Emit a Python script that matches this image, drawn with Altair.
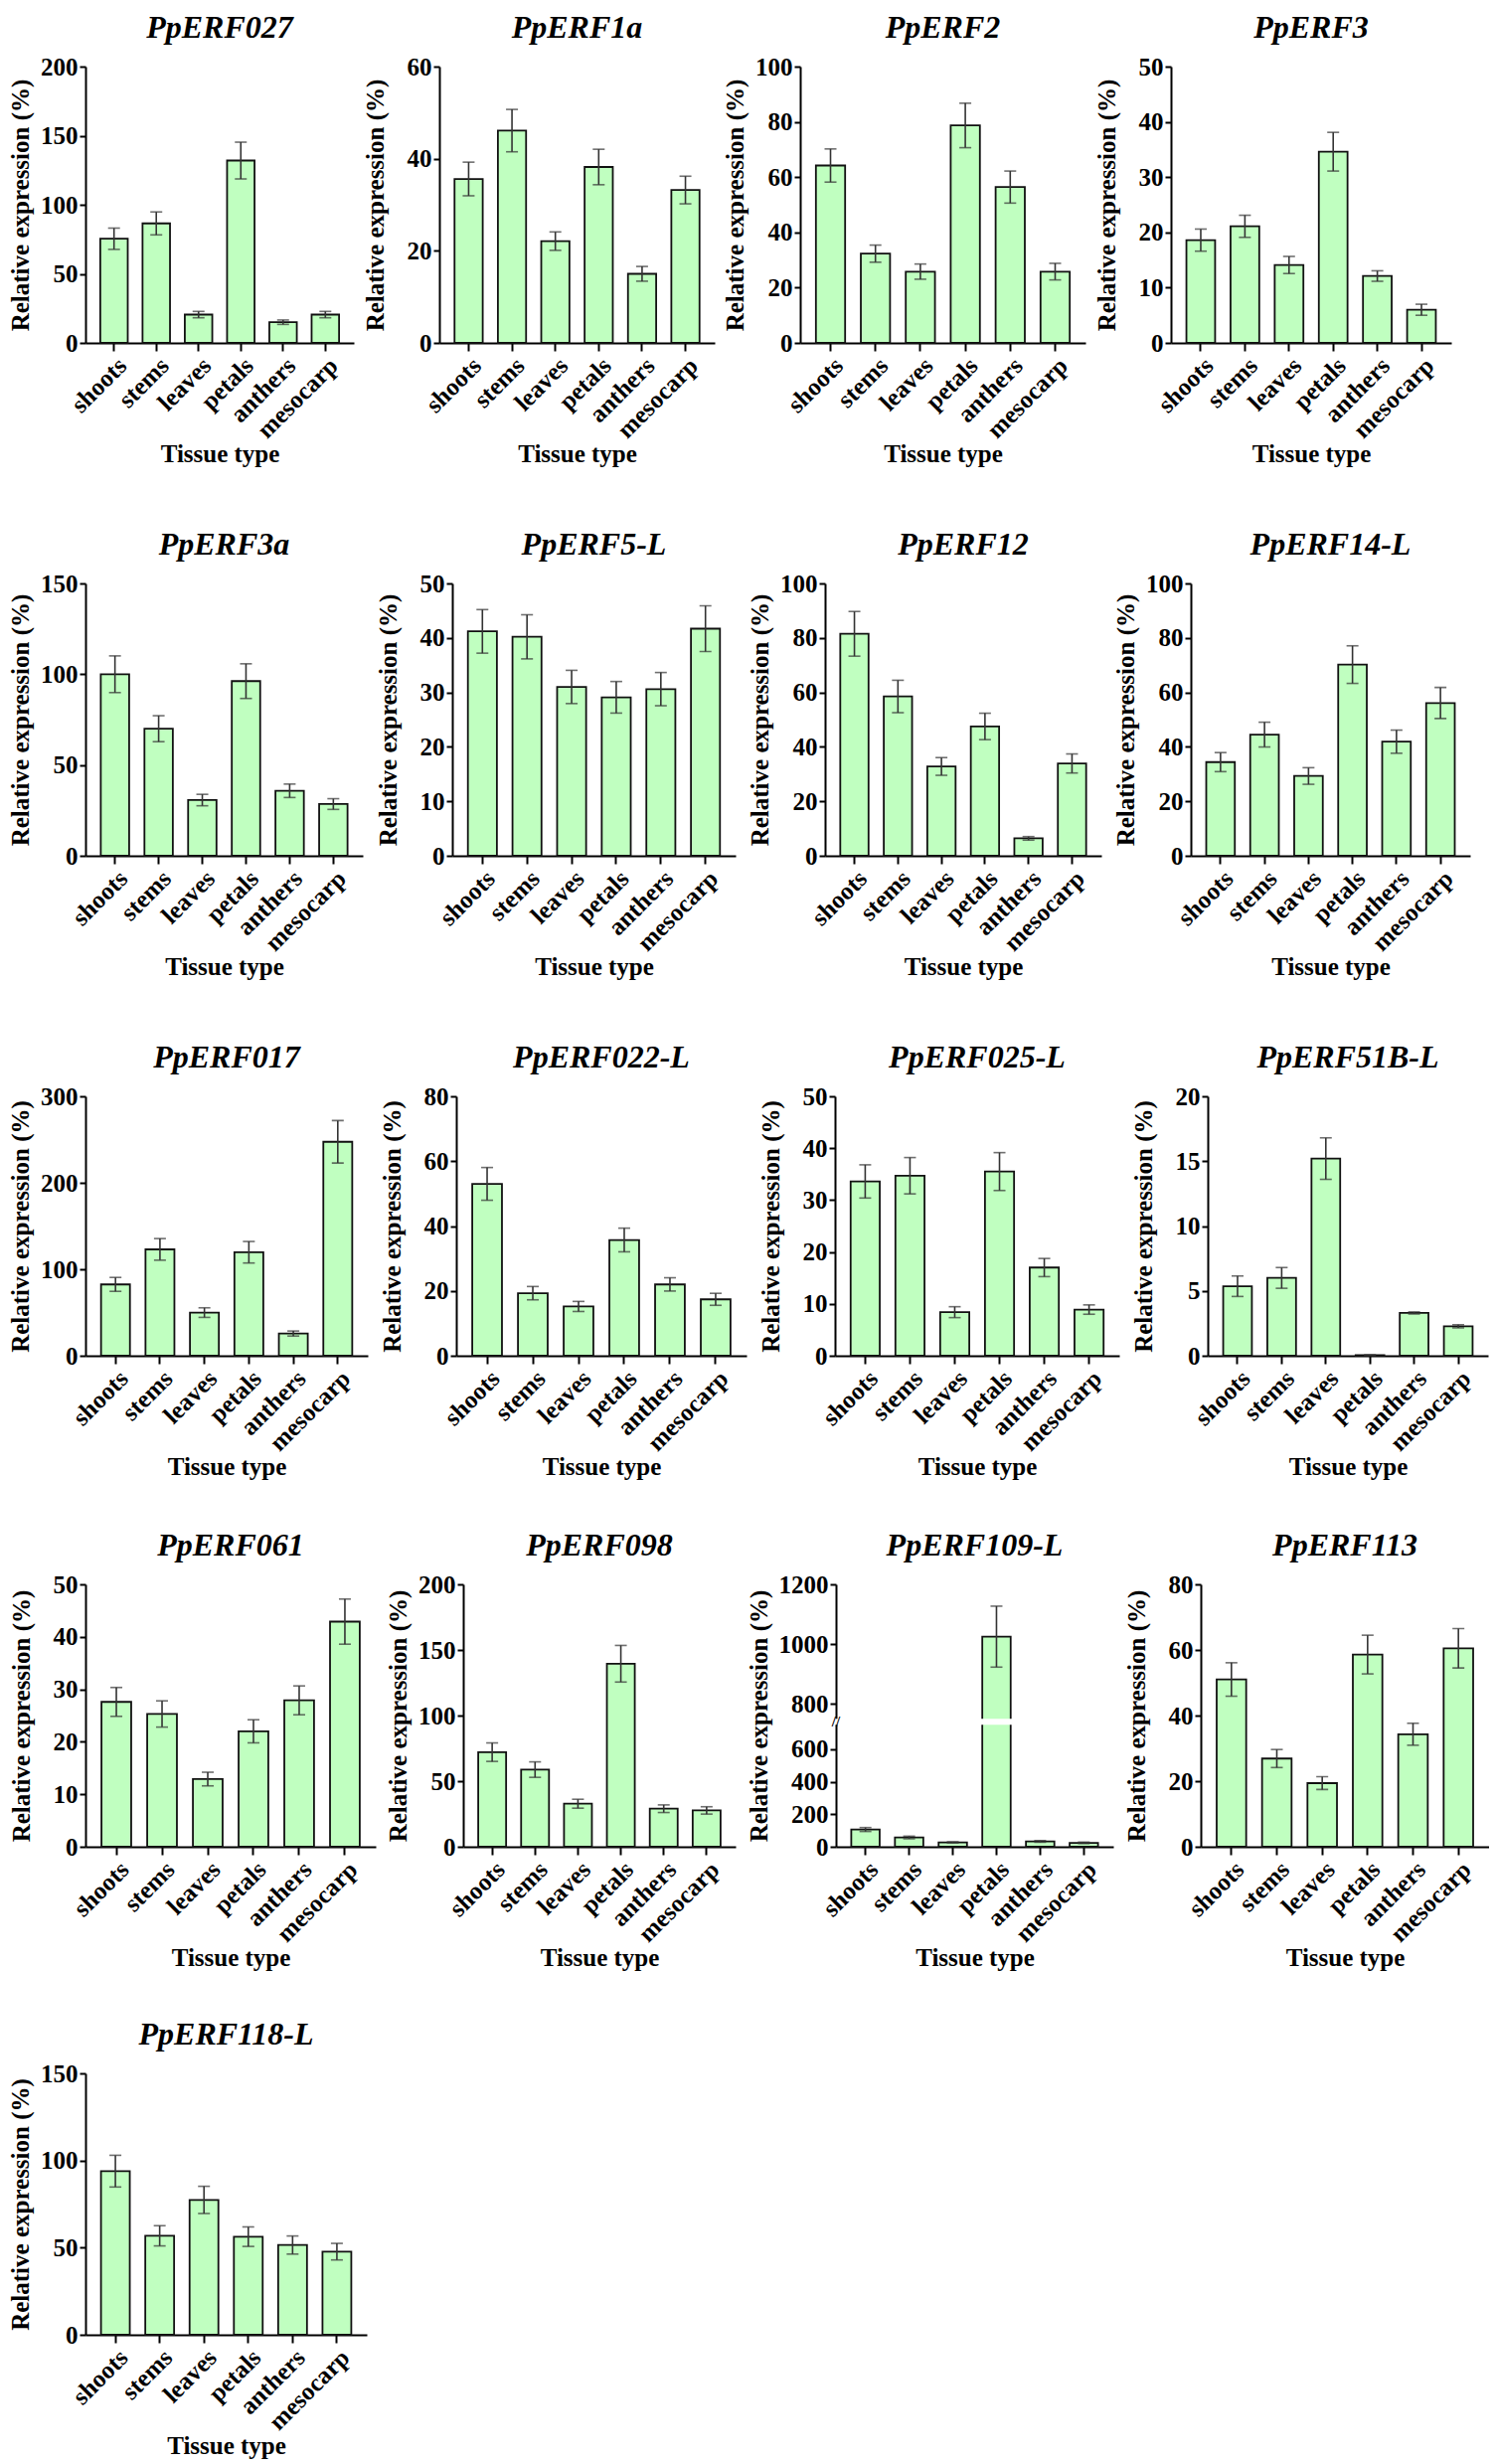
import altair as alt
import pandas as pd

tissues = ["shoots", "stems", "leaves", "petals", "anthers", "mesocarp"]

erf027_mean = [75.4, 86.5, 20.5, 132.0, 15.0, 20.5]
erf027_sem = [7.7, 8.3, 2.3, 13.3, 1.6, 2.3]
erf027_ticks = [0, 50, 100, 150, 200]

erf1a_mean = [35.6, 46.1, 22.1, 38.2, 15.0, 33.2]
erf1a_sem = [3.65, 4.6, 2.0, 3.85, 1.6, 3.0]
erf1a_ticks = [0, 20, 40, 60]

erf2_mean = [64.2, 32.3, 25.8, 78.7, 56.4, 25.8]
erf2_sem = [6.0, 3.1, 2.75, 8.05, 5.8, 3.0]
erf2_ticks = [0, 20, 40, 60, 80, 100]

erf3_mean = [18.6, 21.1, 14.1, 34.6, 12.1, 6.0]
erf3_sem = [2.0, 2.0, 1.55, 3.5, 0.95, 1.0]
erf3_ticks = [0, 10, 20, 30, 40, 50]

erf3a_mean = [100.0, 70.0, 30.7, 96.2, 35.8, 28.5]
erf3a_sem = [10.1, 7.15, 3.15, 9.55, 3.7, 2.95]
erf3a_ticks = [0, 50, 100, 150]

erf5l_mean = [41.2, 40.2, 31.0, 29.1, 30.6, 41.7]
erf5l_sem = [4.0, 4.05, 3.05, 2.9, 3.05, 4.2]
erf5l_ticks = [0, 10, 20, 30, 40, 50]

erf12_mean = [81.5, 58.5, 32.8, 47.5, 6.4, 33.9]
erf12_sem = [8.2, 5.95, 3.25, 4.85, 0.65, 3.5]
erf12_ticks = [0, 20, 40, 60, 80, 100]

erf14l_mean = [34.4, 44.5, 29.3, 70.2, 41.9, 56.1]
erf14l_sem = [3.5, 4.55, 3.05, 6.9, 4.25, 5.7]
erf14l_ticks = [0, 20, 40, 60, 80, 100]

erf017_mean = [82.5, 123.0, 49.9, 119.7, 25.7, 247.4]
erf017_sem = [8.05, 12.5, 5.55, 12.45, 2.9, 24.55]
erf017_ticks = [0, 100, 200, 300]

erf022l_mean = [53.0, 19.3, 15.2, 35.7, 22.0, 17.4]
erf022l_sem = [5.05, 2.05, 1.55, 3.65, 2.05, 1.85]
erf022l_ticks = [0, 20, 40, 60, 80]

erf025l_mean = [33.6, 34.7, 8.4, 35.5, 17.0, 8.9]
erf025l_sem = [3.2, 3.5, 1.05, 3.65, 1.75, 0.9]
erf025l_ticks = [0, 10, 20, 30, 40, 50]

erf51bl_mean = [5.36, 6.0, 15.2, 0.05, 3.3, 2.27]
erf51bl_sem = [0.79, 0.8, 1.6, 0.02, 0.08, 0.12]
erf51bl_ticks = [0, 5, 10, 15, 20]

erf061_mean = [27.6, 25.3, 12.9, 22.0, 27.9, 42.9]
erf061_sem = [2.75, 2.5, 1.3, 2.2, 2.75, 4.3]
erf061_ticks = [0, 10, 20, 30, 40, 50]

erf098_mean = [72.1, 58.8, 32.8, 139.5, 29.0, 27.7]
erf098_sem = [7.05, 5.9, 3.4, 13.95, 2.9, 2.8]
erf098_ticks = [0, 50, 100, 150, 200]

erf109l_mean = [106.0, 57.0, 27.0, 1025.0, 33.0, 24.0]
erf109l_sem = [12.0, 8.0, 3.5, 102.0, 5.0, 4.5]
erf109l_ticks = [0, 200, 400, 600, 800, 1000, 1200]
erf109l_break = [750]

erf113_mean = [51.0, 26.9, 19.4, 58.6, 34.3, 60.5]
erf113_sem = [5.1, 2.75, 1.95, 5.9, 3.35, 6.0]
erf113_ticks = [0, 20, 40, 60, 80]

erf118l_mean = [93.9, 56.8, 77.4, 56.3, 51.5, 47.7]
erf118l_sem = [9.1, 5.8, 7.8, 5.6, 5.2, 4.75]
erf118l_ticks = [0, 50, 100, 150]

FONT = "Liberation Serif"
BAR_FILL = "#c0ffc0"
ERR = "#333333"
YTITLE = "Relative expression (%)"


def frame(mean, sem):
    df = pd.DataFrame({"tissue": tissues, "mean": mean, "sem": sem})
    df["lo"] = df["mean"] - df["sem"]
    df["hi"] = df["mean"] + df["sem"]
    return df


def xenc():
    return alt.X("tissue:N", sort=tissues,
                 scale=alt.Scale(paddingInner=0.35, paddingOuter=0.35),
                 axis=alt.Axis(title="Tissue type", labelAngle=-45))


def title(name):
    return alt.TitleParams(text=name, font=FONT, fontStyle="italic",
                           fontWeight="bold", fontSize=32, offset=10,
                           anchor="middle", frame="group", color="black")


def layers(base, yaxis, sc, fm, flo, fhi):
    bars = base.mark_bar(fill=BAR_FILL, stroke="#111111", strokeWidth=1.8).encode(
        x=xenc(), y=alt.Y(f"{fm}:Q", scale=sc, axis=yaxis))
    rule = base.mark_rule(color=ERR, strokeWidth=1.6).encode(
        x=xenc(), y=alt.Y(f"{flo}:Q", scale=sc, axis=yaxis), y2=f"{fhi}:Q")
    cap_lo = base.mark_tick(color=ERR, size=12, thickness=1.6, orient="horizontal").encode(
        x=xenc(), y=alt.Y(f"{flo}:Q", scale=sc, axis=yaxis))
    cap_hi = base.mark_tick(color=ERR, size=12, thickness=1.6, orient="horizontal").encode(
        x=xenc(), y=alt.Y(f"{fhi}:Q", scale=sc, axis=yaxis))
    return [bars, rule, cap_lo, cap_hi]


def panel(name, mean, sem, ticks, width, height):
    df = frame(mean, sem)
    sc = alt.Scale(domain=[0, ticks[-1]], nice=False, zero=True)
    yaxis = alt.Axis(values=ticks, title=YTITLE, format="d")
    base = alt.Chart(df)
    return alt.layer(*layers(base, yaxis, sc, "mean", "lo", "hi")).properties(
        width=width, height=height, title=title(name))


def break_panel(name, mean, sem, ticks, brk, width, height):
    df = frame(mean, sem)
    k_low = 0.1633
    gap = 6.0
    k_up = 0.3
    lo_edge = brk * k_low
    hi_edge = lo_edge + gap

    def tr(f):
        return (f"datum.{f} <= {brk} ? datum.{f} * {k_low} : "
                f"{hi_edge} + (datum.{f} - {brk}) * {k_up}")

    def tr_py(v):
        return v * k_low if v <= brk else hi_edge + (v - brk) * k_up

    top = tr_py(ticks[-1])
    sc = alt.Scale(domain=[0, top], nice=False, zero=True)
    pos = [tr_py(t) for t in ticks]
    label_expr = (f"datum.value < {lo_edge + 1} ? round(datum.value / {k_low} / 100) * 100 : "
                  f"round(({brk} + (datum.value - {hi_edge}) / {k_up}) / 100) * 100")
    yaxis = alt.Axis(values=pos, title=YTITLE, labelExpr=label_expr)
    base = alt.Chart(df).transform_calculate(
        tm=tr("mean"), tlo=tr("lo"), thi=tr("hi"))
    gdf = pd.DataFrame({"g0": [lo_edge], "g1": [hi_edge], "gm": [(lo_edge + hi_edge) / 2]})
    cut = alt.Chart(gdf).mark_rect(fill="white").encode(
        x=alt.value(-5), x2=alt.value(width),
        y=alt.Y("g0:Q", scale=sc, axis=yaxis), y2="g1:Q")
    mark = alt.Chart(gdf).mark_text(text="//", font=FONT, fontSize=15,
                                    fontWeight="bold", color="black").encode(
        x=alt.value(0), y=alt.Y("gm:Q", scale=sc, axis=yaxis))
    return alt.layer(*layers(base, yaxis, sc, "tm", "tlo", "thi"), cut, mark).properties(
        width=width, height=height, title=title(name))


row1 = alt.hconcat(
    panel("PpERF027", erf027_mean, erf027_sem, erf027_ticks, 270, 278),
    panel("PpERF1a", erf1a_mean, erf1a_sem, erf1a_ticks, 277, 278),
    panel("PpERF2", erf2_mean, erf2_sem, erf2_ticks, 287, 278),
    panel("PpERF3", erf3_mean, erf3_sem, erf3_ticks, 282, 278),
    spacing=8,
)
row2 = alt.hconcat(
    panel("PpERF3a", erf3a_mean, erf3a_sem, erf3a_ticks, 279, 274),
    panel("PpERF5-L", erf5l_mean, erf5l_sem, erf5l_ticks, 285, 274),
    panel("PpERF12", erf12_mean, erf12_sem, erf12_ticks, 278, 274),
    panel("PpERF14-L", erf14l_mean, erf14l_sem, erf14l_ticks, 281, 274),
    spacing=12,
)
row3 = alt.hconcat(
    panel("PpERF017", erf017_mean, erf017_sem, erf017_ticks, 284, 261),
    panel("PpERF022-L", erf022l_mean, erf022l_sem, erf022l_ticks, 292, 261),
    panel("PpERF025-L", erf025l_mean, erf025l_sem, erf025l_ticks, 286, 261),
    panel("PpERF51B-L", erf51bl_mean, erf51bl_sem, erf51bl_ticks, 282, 261),
    spacing=11,
)
row4 = alt.hconcat(
    panel("PpERF061", erf061_mean, erf061_sem, erf061_ticks, 292, 264),
    panel("PpERF098", erf098_mean, erf098_sem, erf098_ticks, 274, 264),
    break_panel("PpERF109-L", erf109l_mean, erf109l_sem, erf109l_ticks,
                erf109l_break[0], 279, 264),
    panel("PpERF113", erf113_mean, erf113_sem, erf113_ticks, 290, 264),
    spacing=10,
)
row5 = alt.hconcat(
    panel("PpERF118-L", erf118l_mean, erf118l_sem, erf118l_ticks, 283, 263),
)

top_block = alt.vconcat(row1, row2, row3, spacing=62)
bottom_block = alt.vconcat(row4, row5, spacing=48)

chart = alt.vconcat(top_block, bottom_block, spacing=50).configure(
    padding={"left": 0, "top": 4, "right": 0, "bottom": 0},
    background="white",
).configure_view(stroke=None).configure_axis(
    domainColor="black", domainWidth=2, tickColor="black", tickWidth=2,
    labelFont=FONT, labelFontWeight="bold", labelFontSize=25, labelColor="black",
    titleFont=FONT, titleFontWeight="bold", titleFontSize=25, titleColor="black",
    grid=False,
).configure_axisX(
    tickSize=8, labelPadding=2, titlePadding=-1,
).configure_axisY(
    tickSize=6, labelPadding=2, titlePadding=7, minExtent=45,
)

chart.save("out.html", embed_options={"renderer": "svg", "actions": False})
